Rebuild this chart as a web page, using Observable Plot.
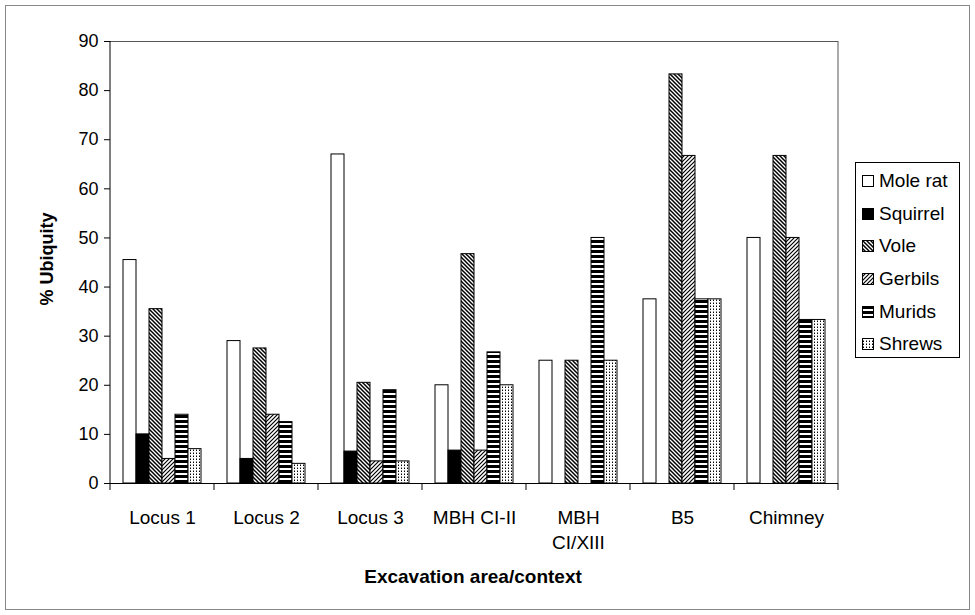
<!DOCTYPE html>
<html><head><meta charset="utf-8">
<script src="https://cdn.jsdelivr.net/npm/d3@7"></script>
<script src="https://cdn.jsdelivr.net/npm/@observablehq/plot@0.6"></script>
<style>
body{margin:0;background:#fff;font-family:"Liberation Sans",Arial,sans-serif;}
#wrap{position:relative;width:975px;height:615px;overflow:hidden;background:#fff;}
#border{position:absolute;left:5px;top:5px;width:965px;height:605px;border:1px solid #888;box-sizing:border-box;}
#chart{position:absolute;left:0;top:0;}
#ytitle{position:absolute;left:47px;top:259px;transform:translate(-50%,-50%) rotate(-90deg);font-weight:bold;font-size:18px;white-space:nowrap;color:#000;}
#xtitle{position:absolute;left:473px;top:577px;transform:translate(-50%,-50%);font-weight:bold;font-size:19px;white-space:nowrap;color:#000;}
#legend{position:absolute;left:855px;top:162px;width:105px;height:196px;border:1px solid #000;box-sizing:border-box;padding-top:2px;}
.row{height:32.6px;display:flex;align-items:center;font-size:19px;color:#000;white-space:nowrap;}
.row svg{margin-left:6px;margin-right:5px;flex:none;}
</style></head>
<body><div id="wrap"><div id="border"></div><div id="chart"></div>
<div id="ytitle">% Ubiquity</div><div id="xtitle">Excavation area/context</div><div id="legend"></div></div>
<script>
const categories = ["Locus 1","Locus 2","Locus 3","MBH CI-II","MBH CI/XIII","B5","Chimney"];
const series = ["Mole rat","Squirrel","Vole","Gerbils","Murids","Shrews"];
const moleRat  = [45.5, 29,   67,   20,   25, 37.5, 50];
const squirrel = [10,   5,    6.5,  6.7,  0,  0,    0];
const vole     = [35.5, 27.5, 20.5, 46.7, 25, 83.3, 66.7];
const gerbils  = [5,    14,   4.5,  6.7,  0,  66.7, 50];
const murids   = [14,   12.5, 19,   26.7, 50, 37.5, 33.3];
const shrews   = [7,    4,    4.5,  20,   25, 37.5, 33.3];
const yTicks = [0,10,20,30,40,50,60,70,80,90];

const seriesValues = [moleRat, squirrel, vole, gerbils, murids, shrews];
const fills = ["#fff", "#000", "url(#p-vole)", "url(#p-gerbils)", "url(#p-murids)", "url(#p-shrews)"];
const fillOf = Object.fromEntries(series.map((s,i)=>[s, fills[i]]));

const rows = [];
categories.forEach((c, ci) => series.forEach((s, si) => {
  const v = seriesValues[si][ci];
  if (v > 0) rows.push({category: c, series: s, value: v});
}));

const plot = Plot.plot({
  width: 975, height: 615,
  marginLeft: 110, marginRight: 137, marginTop: 41, marginBottom: 132,
  style: {fontFamily: "Liberation Sans, Arial, sans-serif", fontSize: "18px", background: "transparent", color: "#000"},
  fx: {domain: categories, padding: 0, label: null},
  x: {domain: series, paddingInner: 0, paddingOuter: 0.73, axis: null},
  y: {domain: [0, 90], label: null},
  color: {type: "identity"},
  marks: [
    Plot.ruleY([90], {stroke: "#555"}),
    Plot.barY(rows, {fx: "category", x: "series", y: "value", fill: d => fillOf[d.series], stroke: "#000", strokeWidth: 1}),
    Plot.ruleY([0], {stroke: "#000"}),
    Plot.axisY({ticks: yTicks, tickSize: 6, tickPadding: 6, label: null, fontSize: 18}),
    Plot.axisFx({anchor: "bottom", tickSize: 0, tickPadding: 23, label: null, fontSize: 19, lineHeight: 1.3,
      tickFormat: d => d === "MBH CI/XIII" ? "MBH\nCI/XIII" : d})
  ]
});

// patterns
const svg = d3.select(plot);
const defs = svg.insert("defs", ":first-child");
function pat(id, w, h, build) {
  const p = defs.append("pattern").attr("id", id).attr("patternUnits", "userSpaceOnUse").attr("width", w).attr("height", h);
  p.append("rect").attr("width", w).attr("height", h).attr("fill", "#fff");
  build(p);
}
pat("p-vole", 4, 4, p => p.append("path").attr("d", "M-1,-1L5,5M-1,3L1,5M3,-1L5,1").attr("stroke", "#000").attr("stroke-width", 1.5));
pat("p-gerbils", 4, 4, p => p.append("path").attr("d", "M-1,5L5,-1M-1,1L1,-1M3,5L5,3").attr("stroke", "#000").attr("stroke-width", 1.2));
pat("p-murids", 5, 5, p => p.append("rect").attr("width", 5).attr("height", 3).attr("fill", "#000"));
pat("p-shrews", 3, 3, p => { p.append("rect").attr("x", 1).attr("y", 0).attr("width", 1).attr("height", 1).attr("fill", "#000"); p.append("rect").attr("x", 1).attr("y", 2).attr("width", 1).attr("height", 1).attr("fill", "#888"); });

// axis lines, plot-area border and category boundary ticks from the scales
const fx = plot.scale("fx"), y = plot.scale("y");
const xL = fx.range[0], xR = fx.range[1];
const y0 = y.apply(0), yTop = y.apply(90);
const g = svg.append("g");
g.append("line").attr("x1", xR).attr("x2", xR).attr("y1", yTop).attr("y2", y0).attr("stroke", "#555");
g.append("line").attr("x1", xL).attr("x2", xL).attr("y1", yTop).attr("y2", y0).attr("stroke", "#000");
const edges = categories.map(c => fx.apply(c)).concat([fx.apply(categories[categories.length-1]) + fx.bandwidth]);
g.append("g").attr("stroke", "#000").selectAll("line").data(edges).join("line")
  .attr("x1", d => d).attr("x2", d => d).attr("y1", y0).attr("y2", y0 + 7);

document.getElementById("chart").appendChild(plot);

// legend
const legend = d3.select("#legend");
series.forEach((s, i) => {
  const r = legend.append("div").attr("class", "row");
  const sw = r.append("svg").attr("width", 12).attr("height", 12);
  sw.append("rect").attr("x", 0.5).attr("y", 0.5).attr("width", 11).attr("height", 11).attr("fill", fills[i]).attr("stroke", "#000");
  r.append("span").text(s);
});
</script></body></html>
